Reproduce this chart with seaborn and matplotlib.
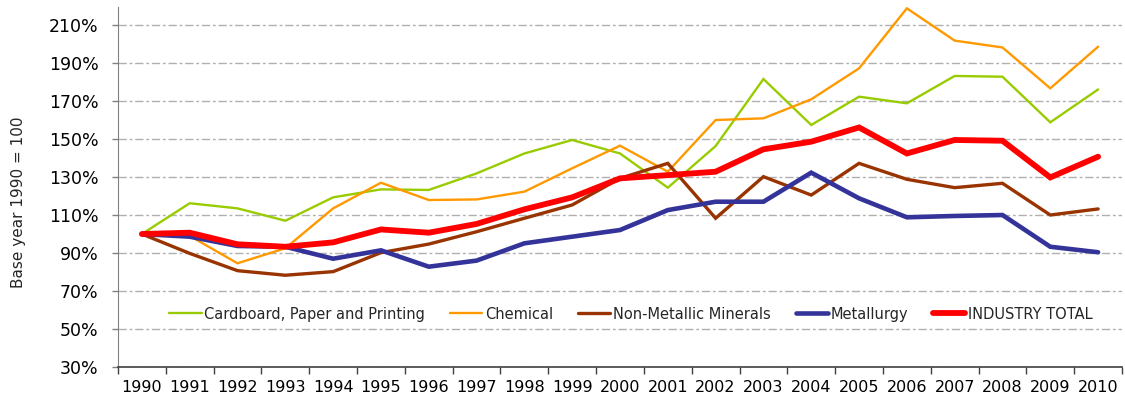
import numpy as np
import pandas as pd
import matplotlib
matplotlib.use('Agg')
import matplotlib.pyplot as plt
import seaborn as sns
from matplotlib.ticker import FixedLocator, FuncFormatter

# 数据（1990 = 100）
YEARS = list(range(1990, 2011))

CARDBOARD = [100, 116.2, 113.5, 107.0, 119.3, 123.5, 123.2, 131.9, 142.4, 149.5, 142.4,
             124.4, 146.3, 181.6, 157.4, 172.3, 168.8, 183.2, 182.8, 158.8, 176.1]
CHEMICAL = [100, 99.0, 84.6, 92.5, 113.5, 127.0, 117.9, 118.2, 122.3, 134.6, 146.5,
            132.8, 160.0, 160.9, 170.9, 187.2, 218.8, 201.8, 198.2, 176.7, 198.6]
NON_METALLIC = [100, 89.8, 80.7, 78.3, 80.2, 90.2, 94.7, 101.2, 108.3, 115.3, 129.3,
                137.2, 108.3, 130.2, 120.5, 137.2, 128.8, 124.4, 126.7, 110.0, 113.2]
METALLURGY = [100, 98.6, 93.7, 93.3, 87.0, 91.4, 82.8, 86.0, 95.1, 98.6, 102.1,
              112.6, 117.0, 117.0, 132.3, 118.8, 108.8, 109.5, 110.0, 93.3, 90.4]
INDUSTRY_TOTAL = [100, 100.7, 94.6, 93.3, 95.6, 102.4, 100.7, 105.3, 113.0, 119.3, 129.3,
                  131.0, 132.8, 144.6, 148.6, 156.1, 142.4, 149.5, 149.1, 129.8, 140.7]

SERIES = ['Cardboard, Paper and Printing', 'Chemical', 'Non-Metallic Minerals',
          'Metallurgy', 'INDUSTRY TOTAL']
VALUES = [CARDBOARD, CHEMICAL, NON_METALLIC, METALLURGY, INDUSTRY_TOTAL]
COLORS = ['#99cc00', '#ff9900', '#993300', '#333399', '#ff0000']
WIDTHS = [1.7, 1.7, 2.4, 3.3, 4.2]

Y_TICKS = [30, 50, 70, 90, 110, 130, 150, 170, 190, 210]

sns.set_style('white')
plt.rcParams['font.family'] = ['DejaVu Sans']

rows = []
for name, vals in zip(SERIES, VALUES):
    for i, (yr, v) in enumerate(zip(YEARS, vals)):
        rows.append({'Series': name, 'Idx': i, 'Year': yr, 'Value': v})
df = pd.DataFrame(rows)

fig = plt.figure(figsize=(11.25, 3.96), dpi=100)
ax = fig.add_axes([118 / 1125, 1 - 367 / 396, (1122 - 118) / 1125, 360 / 396])

for name, color, lw in zip(SERIES, COLORS, WIDTHS):
    sub = df[df['Series'] == name]
    sns.lineplot(data=sub, x='Idx', y='Value', ax=ax, color=color, linewidth=lw,
                 label=name, solid_joinstyle='miter')

ax.set_xlim(-0.5, len(YEARS) - 0.5)
ax.set_ylim(30, 219.5)

# y轴
ax.yaxis.set_major_locator(FixedLocator(Y_TICKS))
ax.yaxis.set_major_formatter(FuncFormatter(lambda v, p: f'{int(v)}%'))
ax.tick_params(axis='y', length=4, width=1, color='#808080', pad=10,
               labelsize=12.5, labelcolor='black', left=True)
ax.grid(axis='y', color='#b0b0b0', linestyle=(0, (6, 2, 2, 2)), linewidth=1)
ax.grid(axis='x', visible=False)

# x轴: 标签在中间，刻度在边界
ax.set_xticks(range(len(YEARS)))
ax.set_xticklabels([str(y) for y in YEARS])
ax.set_xticks(np.arange(-0.5, len(YEARS), 1.0), minor=True)
ax.tick_params(axis='x', which='major', length=0, pad=9, labelsize=11.5, labelcolor='black')
ax.tick_params(axis='x', which='minor', length=5, width=1, color='#404040', bottom=True)

for s in ['top', 'right']:
    ax.spines[s].set_visible(False)
ax.spines['left'].set_color('#808080')
ax.spines['bottom'].set_color('#404040')
ax.spines['bottom'].set_linewidth(1.2)

ax.set_xlabel('')
ax.set_ylabel('')
fig.text(19 / 1125, 1 - 202 / 396, 'Base year 1990 = 100', rotation=90,
         ha='center', va='center', fontsize=11)

leg = ax.legend(loc='center', bbox_to_anchor=(0.511, 0.147), ncol=5, frameon=False,
                fontsize=10.5, handlelength=2.2, handletextpad=0.2, columnspacing=1.7,
                borderaxespad=0)

fig.savefig('out.png', dpi=100)
